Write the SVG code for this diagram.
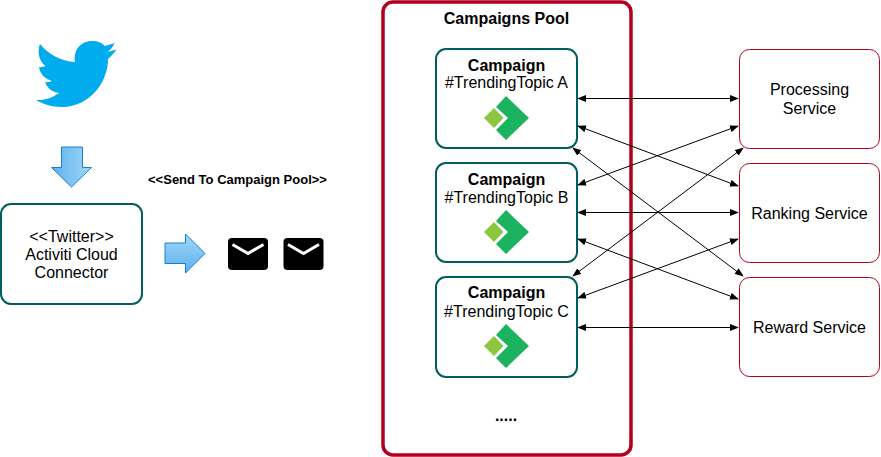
<svg xmlns="http://www.w3.org/2000/svg" width="881" height="457" viewBox="0 0 881 457">
<style>
text{font-family:"Liberation Sans",Arial,sans-serif;text-anchor:middle;fill:#000}
.t{font-size:16px}.b{font-size:16px;font-weight:bold}
.teal{fill:#fff;stroke:#005E5E;stroke-width:2}
.red{fill:#fff;stroke:#B20020;stroke-width:1}
.c{fill:none;stroke:#000;stroke-width:1;marker-start:url(#a);marker-end:url(#a)}
.blk{stroke:#1282d0;stroke-width:1}
</style>
<defs>
<marker id="a" viewBox="0 0 10 10" refX="9" refY="5" markerWidth="9" markerHeight="7" markerUnits="userSpaceOnUse" orient="auto-start-reverse" preserveAspectRatio="none"><path d="M0 0L10 5L0 10Z" fill="#000"/></marker>
<linearGradient id="g1" x1="0" y1="0" x2="1" y2="0"><stop offset="0" stop-color="#5FB0EA"/><stop offset="1" stop-color="#A0D8FA"/></linearGradient>
<linearGradient id="g2" x1="0" y1="0" x2="0" y2="1"><stop offset="0" stop-color="#A0D8FA"/><stop offset="1" stop-color="#5FB0EA"/></linearGradient>
<g id="logo"><path d="M0 -22L23 0L0 22L-10 12L2 0L-10 -11Z" fill="#1BB35F"/><path d="M-22 0L-12 -10L-2.500 0L-12 10Z" fill="#8CC63F"/></g>
<g id="env"><rect x="0" y="0" width="40" height="32" rx="4" fill="#000"/><path d="M4.500 6.500L20 15.500L35.500 6.500" fill="none" stroke="#fff" stroke-width="3"/></g>
</defs>
<rect width="881" height="457" fill="#fff"/>
<g id="pool"><rect x="383" y="2" width="248" height="453" rx="10" fill="#fff" stroke="#B20020" stroke-width="3.500"/><text class="b" x="506.500" y="24">Campaigns Pool</text><text class="b" x="506" y="421">.....</text></g>
<g id="twitter"><path d="M40 44C49 55 61 61 75 62C73 50 81 41 92 41C98 41 102 43 105 46L114.500 43C113 47 110.500 50 107.500 52L116.500 49.500C113.500 54 111 56 108 59C108.500 80 91 107 62 107C51 107 43 104 36 100C45 100.500 52 98 59 93C52 92 47 88 45 82C47 82.500 50 82 52 81C45 79 40 74 39 67C41 67.500 43 67 45.500 66C39 61 37 52 40 44Z" fill="#00ACEE"/></g>
<g id="arrow-down"><path d="M61.500 147H82.500V167.500H91.500L71.500 187L51.500 167.500H61.500Z" fill="url(#g1)" class="blk"/></g>
<g id="connector"><rect x="1" y="204" width="141" height="100" rx="10" class="teal"/><text class="t" x="71.500" y="242">&lt;&lt;Twitter&gt;&gt;</text><text class="t" x="71.500" y="260">Activiti Cloud</text><text class="t" x="71.500" y="278">Connector</text></g>
<g id="send-label"><text x="237.500" y="184" style="font-size:13px;font-weight:bold">&lt;&lt;Send To Campaign Pool&gt;&gt;</text></g>
<g id="arrow-right"><path d="M165 243H185.500V234L205 253.500L185.500 273V263.500H165Z" fill="url(#g2)" class="blk"/></g>
<g id="msg1"><use href="#env" x="228" y="238"/></g>
<g id="msg2"><use href="#env" x="283.500" y="238"/></g>
<g id="campaign-a"><rect x="436" y="49" width="141" height="99" rx="10" class="teal"/><text class="b" x="506.500" y="71">Campaign</text><text class="t" x="506.500" y="88">#TrendingTopic A</text><use href="#logo" x="506" y="118"/></g>
<g id="campaign-b"><rect x="436" y="163" width="141" height="99" rx="10" class="teal"/><text class="b" x="506.500" y="185">Campaign</text><text class="t" x="506.500" y="203">#TrendingTopic B</text><use href="#logo" x="506" y="232"/></g>
<g id="campaign-c"><rect x="436" y="277" width="141" height="100" rx="10" class="teal"/><text class="b" x="506.500" y="298">Campaign</text><text class="t" x="506.500" y="317">#TrendingTopic C</text><use href="#logo" x="506" y="346"/></g>
<g id="processing"><rect x="739.500" y="49.500" width="140" height="99" rx="10" class="red"/><text class="t" x="809.500" y="95">Processing</text><text class="t" x="809.500" y="114">Service</text></g>
<g id="ranking"><rect x="739.500" y="163.500" width="140" height="99" rx="10" class="red"/><text class="t" x="809.500" y="219">Ranking Service</text></g>
<g id="reward"><rect x="739.500" y="277.500" width="140" height="99" rx="10" class="red"/><text class="t" x="809.500" y="333">Reward Service</text></g>
<g id="connectors">
<path class="c" d="M578 98.500H738"/>
<path class="c" d="M578 126L738 186"/>
<path class="c" d="M578 185L738 126"/>
<path class="c" d="M573 148L743 276"/>
<path class="c" d="M743 148L573 276"/>
<path class="c" d="M578 212.500H738"/>
<path class="c" d="M578 239L738 299"/>
<path class="c" d="M578 298L738 239"/>
<path class="c" d="M578 327.500H738"/>
</g>
</svg>
